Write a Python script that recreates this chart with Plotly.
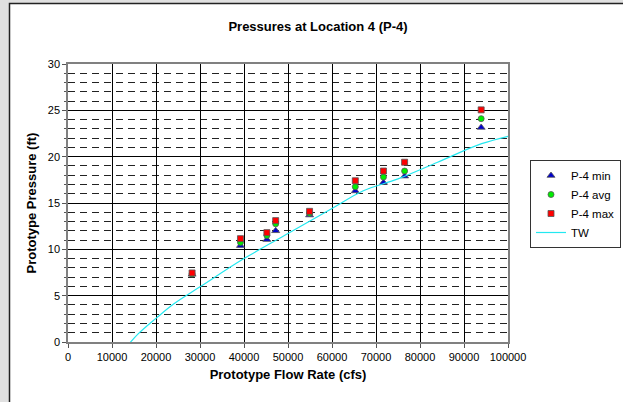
import plotly.graph_objects as go

# Data
flow = [28200, 39200, 45200, 47200, 54900, 65300, 71700, 76500, 93900]
p_min = [7.3, 10.4, 11.05, 12.0, 13.7, 16.3, 17.2, 17.9, 23.15]
p_avg = [7.35, 10.75, 11.5, 12.75, 13.9, 16.75, 17.8, 18.45, 24.1]
p_max = [7.45, 11.15, 11.8, 13.1, 14.1, 17.4, 18.45, 19.4, 25.05]

tw_flow = [13600, 16000, 20000, 24000, 30000, 40000, 50000, 60000, 67000,
           75000, 84000, 94000, 100900]
tw_pres = [-0.35, 0.9, 2.55, 4.1, 5.95, 9.0, 11.7, 14.4, 16.3, 17.6, 19.4,
           21.4, 22.3]

x_ticks = [0, 10000, 20000, 30000, 40000, 50000, 60000, 70000, 80000, 90000, 100000]
y_ticks = [0, 5, 10, 15, 20, 25, 30]

FONT = "Liberation Sans, Arial, sans-serif"

fig = go.Figure()
fig.add_trace(go.Scatter(
    x=flow, y=p_min, mode="markers", name="P-4 min",
    marker=dict(symbol="triangle-up", size=7, color="#0000cc",
                line=dict(color="#555555", width=0.8))))
fig.add_trace(go.Scatter(
    x=flow, y=p_avg, mode="markers", name="P-4 avg",
    marker=dict(symbol="circle", size=6, color="#00ee00",
                line=dict(color="#555555", width=0.8))))
fig.add_trace(go.Scatter(
    x=flow, y=p_max, mode="markers", name="P-4 max",
    marker=dict(symbol="square", size=6, color="#ff0000",
                line=dict(color="#555555", width=0.8))))
fig.add_trace(go.Scatter(
    x=tw_flow, y=tw_pres, mode="lines", name="TW",
    line=dict(color="#22e8f0", width=1.2, shape="spline"),
    cliponaxis=False))

W, H = 623, 402
L, R, T, B = 68, 115, 64, 60
pw, ph = W - L - R, H - T - B


def px_x(p):
    return (p - L) / pw


def px_y(p):
    return (H - B - p) / ph


fig.add_shape(type="rect", xref="paper", yref="paper", layer="below",
              x0=px_x(9.5), x1=px_x(W + 5), y0=px_y(H + 5), y1=px_y(3.5),
              fillcolor="white", line=dict(color="#222222", width=1.5))

fig.update_layout(
    width=W, height=H,
    margin=dict(l=L, r=R, t=T, b=B, autoexpand=False),
    paper_bgcolor="#e0e0e0",
    plot_bgcolor="white",
    font=dict(family=FONT, size=11, color="black"),
    title=dict(text="<b>Pressures at Location 4 (P-4)</b>",
               font=dict(family=FONT, size=13, color="black"),
               x=px_x(318), xanchor="center", xref="paper",
               y=1 - 26 / H, yanchor="middle"),
    legend=dict(x=px_x(530), xanchor="left", y=px_y(160), yanchor="top",
                bgcolor="white", bordercolor="#333333", borderwidth=1,
                font=dict(family=FONT, size=11.5, color="black"),
                itemwidth=30, tracegroupgap=0),
    showlegend=True,
)

fig.update_xaxes(
    range=[0, 100000], tickvals=x_ticks, ticktext=[str(v) for v in x_ticks],
    showline=True, linecolor="#808080", linewidth=1.5, mirror=True,
    showgrid=True, gridcolor="black", gridwidth=1,
    ticks="outside", ticklen=4, tickcolor="#555555",
    tickfont=dict(family=FONT, size=11, color="black"),
    zeroline=False,
    title=dict(text="<b>Prototype Flow Rate (cfs)</b>",
               font=dict(family=FONT, size=13, color="black"), standoff=8),
)
fig.update_yaxes(
    range=[0, 30], tickvals=y_ticks,
    showline=True, linecolor="#808080", linewidth=1.5, mirror=True,
    showgrid=True, gridcolor="black", gridwidth=1,
    ticks="outside", ticklen=4, tickcolor="#555555",
    tickfont=dict(family=FONT, size=11, color="black"),
    zeroline=False,
    minor=dict(dtick=1, tick0=0, showgrid=True, gridcolor="#222222",
               gridwidth=1, griddash="7px,5px", ticks="outside", ticklen=2,
               tickcolor="#555555"),
    title=dict(text="<b>Prototype Pressure (ft)</b>",
               font=dict(family=FONT, size=13, color="black"), standoff=8),
)

fig.write_html("out.html")
